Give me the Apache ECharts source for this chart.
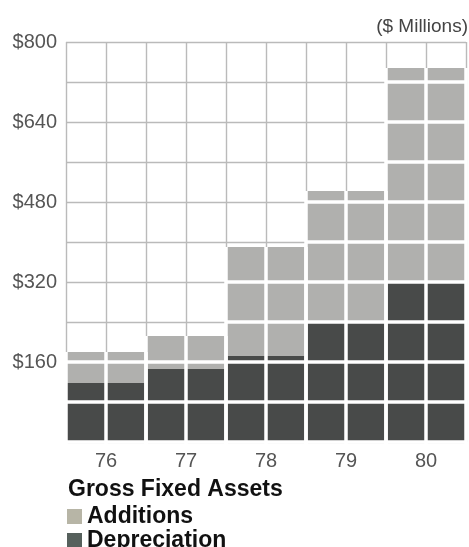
<!DOCTYPE html>
<html>
<head>
<meta charset="utf-8">
<script src="https://cdn.jsdelivr.net/npm/echarts@6/dist/echarts.min.js"></script>
<style>
  html, body { margin: 0; padding: 0; background: #fff; }
  #chart { width: 469px; height: 547px; }
</style>
</head>
<body>
<div id="chart"></div>
<script>
// Gross fixed assets by year, $ millions
const years = ['76', '77', '78', '79', '80'];
const depreciation = [118, 146, 172, 242, 322];
const additions = [62, 66, 218, 260, 426];
const yTicks = [160, 320, 480, 640, 800];

const LIGHT = '#b0b0ae';
const DARK = '#484a49';
const GRID_GRAY = '#bababa';

const totals = years.map((_, i) => depreciation[i] + additions[i]);

// one rectangle per year, spanning the full category width
function segmentRenderer(lowArr, highArr, color) {
  return function (params, api) {
    const i = api.value(0);
    const lo = lowArr[i], hi = highArr[i];
    const p0 = api.coord([i, lo]);
    const p1 = api.coord([i + 1, hi]);
    return {
      type: 'rect',
      shape: { x: p0[0], y: p1[1], width: p1[0] - p0[0], height: p0[1] - p1[1] },
      style: { fill: color }
    };
  };
}

// white rules cut through the filled part of each bar at every grid step
function ruleRenderer(params, api) {
  const i = api.value(0);
  const total = totals[i];
  const children = [];
  const base = api.coord([i, 0]);
  const top = api.coord([i, total]);
  [i, i + 0.5, i + 1].forEach(xv => {
    const x = api.coord([xv, 0])[0];
    children.push({
      type: 'line',
      shape: { x1: x, y1: base[1] + 2, x2: x, y2: top[1] },
      style: { stroke: '#fff', lineWidth: 3.5 }
    });
  });
  const xl = api.coord([i, 0])[0];
  const xr = api.coord([i + 1, 0])[0];
  for (let v = 0; v <= total; v += 80) {
    const y = api.coord([i, v])[1];
    children.push({
      type: 'line',
      shape: { x1: xl, y1: y, x2: xr, y2: y },
      style: { stroke: '#fff', lineWidth: 3.5 }
    });
  }
  return { type: 'group', children };
}

const lowDep = years.map(() => 0);
const idx = years.map((_, i) => [i]);

const legendText = { fontFamily: 'Liberation Sans', fontWeight: 'bold', fontSize: 23, color: '#111' };

const chart = echarts.init(document.getElementById('chart'), null, { renderer: 'canvas' });
chart.setOption({
  animation: false,
  backgroundColor: '#fff',
  title: {
    text: 'Gross Fixed Assets',
    left: 63,
    top: 473,
    textStyle: legendText
  },
  graphic: [{
    type: 'text',
    right: 1,
    top: 17,
    style: { text: '($ Millions)', fontFamily: 'Liberation Sans', fontSize: 19, fill: '#444' }
  }],
  legend: [
    {
      left: 62, top: 500, icon: 'rect', itemWidth: 15, itemHeight: 15,
      data: [{ name: 'Additions', itemStyle: { color: '#b7b5a6' } }], textStyle: legendText
    },
    {
      left: 62, top: 524, icon: 'rect', itemWidth: 15, itemHeight: 15,
      data: [{ name: 'Depreciation', itemStyle: { color: '#56605c' } }], textStyle: legendText
    }
  ],
  grid: { left: 66, right: 3, top: 42, bottom: 105, containLabel: false },
  xAxis: {
    type: 'value',
    min: 0,
    max: 5,
    interval: 0.5,
    axisLine: { show: false },
    axisTick: { show: false },
    splitLine: { show: true, lineStyle: { color: GRID_GRAY, width: 1.4 } },
    axisLabel: {
      margin: 9,
      fontFamily: 'Liberation Sans',
      fontSize: 20,
      color: '#555',
      showMinLabel: true,
      showMaxLabel: true,
      formatter: v => (Math.abs(v % 1 - 0.5) < 1e-6 ? years[Math.floor(v)] : '')
    }
  },
  yAxis: {
    type: 'value',
    min: 0,
    max: 800,
    interval: 80,
    axisLine: { show: false },
    axisTick: { show: false },
    splitLine: { show: true, lineStyle: { color: GRID_GRAY, width: 1.4 } },
    axisLabel: {
      margin: 9,
      fontFamily: 'Liberation Sans',
      fontSize: 20,
      color: '#555',
      formatter: v => (yTicks.indexOf(v) >= 0 ? '$' + v : '')
    }
  },
  series: [
    {
      name: 'Depreciation',
      type: 'custom',
      itemStyle: { color: DARK },
      renderItem: segmentRenderer(lowDep, depreciation, DARK),
      encode: { x: 0 },
      data: idx,
      z: 2
    },
    {
      name: 'Additions',
      type: 'custom',
      itemStyle: { color: LIGHT },
      renderItem: segmentRenderer(depreciation, totals, LIGHT),
      encode: { x: 0 },
      data: idx,
      z: 2
    },
    {
      name: 'rules',
      type: 'custom',
      renderItem: ruleRenderer,
      encode: { x: 0 },
      data: idx,
      z: 3,
      silent: true
    }
  ]
});
</script>
</body>
</html>
